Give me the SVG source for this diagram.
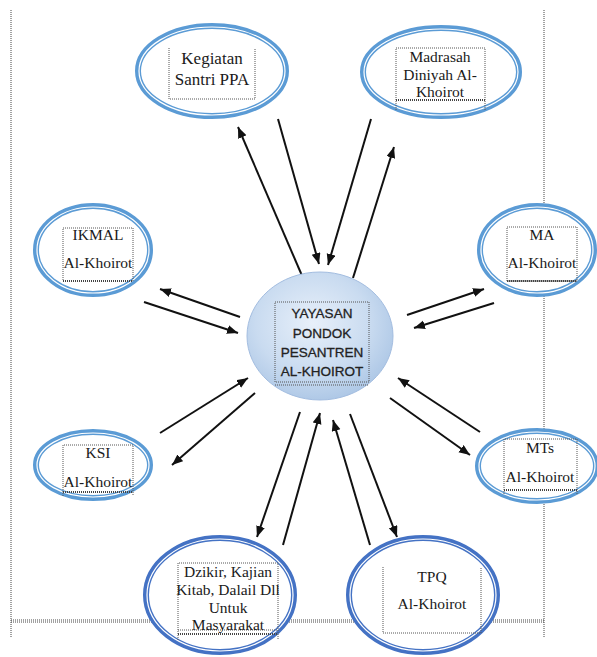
<svg xmlns="http://www.w3.org/2000/svg" width="597" height="657" viewBox="0 0 597 657">
<style>
.page{stroke:#444;stroke-width:1;stroke-dasharray:1 1;fill:none}
.el{fill:#fff;stroke-width:6}
.lt{stroke:#5B9BD5}
.dk{stroke:#4472C4}
.gap{fill:none;stroke:#fff;stroke-width:1.2}
.box{fill:none;stroke:#555;stroke-width:1;stroke-dasharray:1 1}
.boxb{fill:none;stroke:#444;stroke-width:2.2;stroke-dasharray:1 1}
.t{font-family:"Liberation Serif","Times New Roman",serif;font-size:15.5px;fill:#1a1a1a;text-anchor:middle}
.c{font-family:"Liberation Sans",Arial,sans-serif;font-size:13.5px;fill:#222;stroke:#222;stroke-width:0.3;text-anchor:middle}
.ar{stroke:#111;stroke-width:2;fill:none;marker-end:url(#ah)}
</style>
<defs>
<marker id="ah" markerUnits="userSpaceOnUse" markerWidth="12" markerHeight="10" refX="11" refY="4.5" orient="auto">
<path d="M0,0 L11,4.5 L0,9 z" fill="#111"/>
</marker>
<radialGradient id="cg" cx="0.45" cy="0.4" r="0.65">
<stop offset="0" stop-color="#e8f0fa"/>
<stop offset="0.6" stop-color="#c9dbf0"/>
<stop offset="1" stop-color="#a9c4e4"/>
</radialGradient>
</defs>
<g id="page">
<line class="page" x1="11" y1="10" x2="11" y2="637"/>
<line class="page" x1="544" y1="10" x2="544" y2="637"/>
<line class="page" x1="11" y1="620" x2="544" y2="620"/>
<line class="page" x1="11" y1="622" x2="544" y2="622"/>
</g>
<g id="connectors">
<line class="ar" x1="303" y1="278" x2="238" y2="127"/>
<line class="ar" x1="278" y1="119" x2="319" y2="264"/>
<line class="ar" x1="371" y1="119" x2="328" y2="265"/>
<line class="ar" x1="353" y1="278" x2="394" y2="147"/>
<line class="ar" x1="240" y1="317" x2="160" y2="289"/>
<line class="ar" x1="144" y1="302" x2="238" y2="333"/>
<line class="ar" x1="407" y1="315" x2="484" y2="289"/>
<line class="ar" x1="494" y1="303" x2="414" y2="328"/>
<line class="ar" x1="160" y1="433" x2="248" y2="378"/>
<line class="ar" x1="255" y1="393" x2="172" y2="465"/>
<line class="ar" x1="480" y1="432" x2="398" y2="378"/>
<line class="ar" x1="390" y1="398" x2="470" y2="455"/>
<line class="ar" x1="300" y1="412" x2="257" y2="537"/>
<line class="ar" x1="283" y1="545" x2="320" y2="413"/>
<line class="ar" x1="350" y1="414" x2="397" y2="537"/>
<line class="ar" x1="370" y1="545" x2="333" y2="420"/>
</g>
<g id="center">
<ellipse cx="320" cy="336" rx="73" ry="64" fill="url(#cg)" stroke="#a3bde0" stroke-width="1"/>
<rect class="box" x="275" y="302" width="94" height="80"/>
<line class="box" x1="275" y1="385" x2="369" y2="385"/>
<text class="c" x="322" y="318">YAYASAN</text>
<text class="c" x="322" y="338">PONDOK</text>
<text class="c" x="322" y="357">PESANTREN</text>
<text class="c" x="322" y="376">AL-KHOIROT</text>
</g>
<g id="kegiatan">
<ellipse class="el lt" cx="212" cy="71" rx="74" ry="45"/>
<ellipse class="gap" cx="212" cy="71" rx="73" ry="44"/>
<path class="box" d="M169,48 V99 H255 V48"/>
<text class="t" x="212" y="64" style="font-size:17px">Kegiatan</text>
<text class="t" x="212" y="85" style="font-size:17px">Santri PPA</text>
</g>
<g id="madrasah">
<ellipse class="el lt" cx="441" cy="72" rx="78" ry="44"/>
<ellipse class="gap" cx="441" cy="72" rx="77" ry="43"/>
<path class="box" d="M396,110 V48 H485 V110"/>
<line class="boxb" x1="396" y1="100" x2="485" y2="100"/>
<text class="t" x="440" y="62">Madrasah</text>
<text class="t" x="440" y="80">Diniyah Al-</text>
<text class="t" x="440" y="97">Khoirot</text>
</g>
<g id="ikmal">
<ellipse class="el lt" cx="93" cy="250" rx="57" ry="44"/>
<ellipse class="gap" cx="93" cy="250" rx="56" ry="43"/>
<rect class="box" x="63" y="228" width="70" height="53"/>
<line class="boxb" x1="63" y1="281" x2="133" y2="281"/>
<text class="t" x="98" y="240">IKMAL</text>
<text class="t" x="98" y="268">Al-Khoirot</text>
</g>
<g id="ma">
<ellipse class="el lt" cx="537" cy="250" rx="57" ry="44"/>
<ellipse class="gap" cx="537" cy="250" rx="56" ry="43"/>
<rect class="box" x="507" y="227" width="70" height="54"/>
<line class="boxb" x1="507" y1="281" x2="577" y2="281"/>
<text class="t" x="542" y="240">MA</text>
<text class="t" x="542" y="268">Al-Khoirot</text>
</g>
<g id="ksi">
<ellipse class="el lt" cx="93" cy="465" rx="57" ry="33"/>
<ellipse class="gap" cx="93" cy="465" rx="56" ry="32"/>
<path class="box" d="M63,496 V445 H133 V496"/>
<line class="boxb" x1="63" y1="492" x2="133" y2="492"/>
<text class="t" x="98" y="458">KSI</text>
<text class="t" x="98" y="487">Al-Khoirot</text>
</g>
<g id="mts">
<ellipse class="el lt" cx="537" cy="466" rx="59" ry="35"/>
<ellipse class="gap" cx="537" cy="466" rx="58" ry="34"/>
<path class="box" d="M504,494 V439 H577 V494"/>
<line class="boxb" x1="504" y1="490" x2="577" y2="490"/>
<text class="t" x="540" y="453">MTs</text>
<text class="t" x="540" y="482">Al-Khoirot</text>
</g>
<g id="dzikir">
<ellipse class="el dk" cx="220" cy="595" rx="74" ry="57"/>
<ellipse class="gap" cx="220" cy="595" rx="73" ry="56"/>
<path class="box" d="M178,640 V563 H278 V640"/>
<line class="box" x1="178" y1="630" x2="278" y2="630"/>
<line class="boxb" x1="178" y1="634" x2="278" y2="634"/>
<text class="t" x="228" y="577">Dzikir, Kajian</text>
<text class="t" x="228" y="595">Kitab, Dalail Dll</text>
<text class="t" x="228" y="613">Untuk</text>
<text class="t" x="228" y="630">Masyarakat</text>
</g>
<g id="tpq">
<ellipse class="el dk" cx="423" cy="595" rx="74" ry="57"/>
<ellipse class="gap" cx="423" cy="595" rx="73" ry="56"/>
<path class="box" d="M383,567 V633 H481 V567"/>
<text class="t" x="432" y="582">TPQ</text>
<text class="t" x="432" y="609">Al-Khoirot</text>
</g>
</svg>
